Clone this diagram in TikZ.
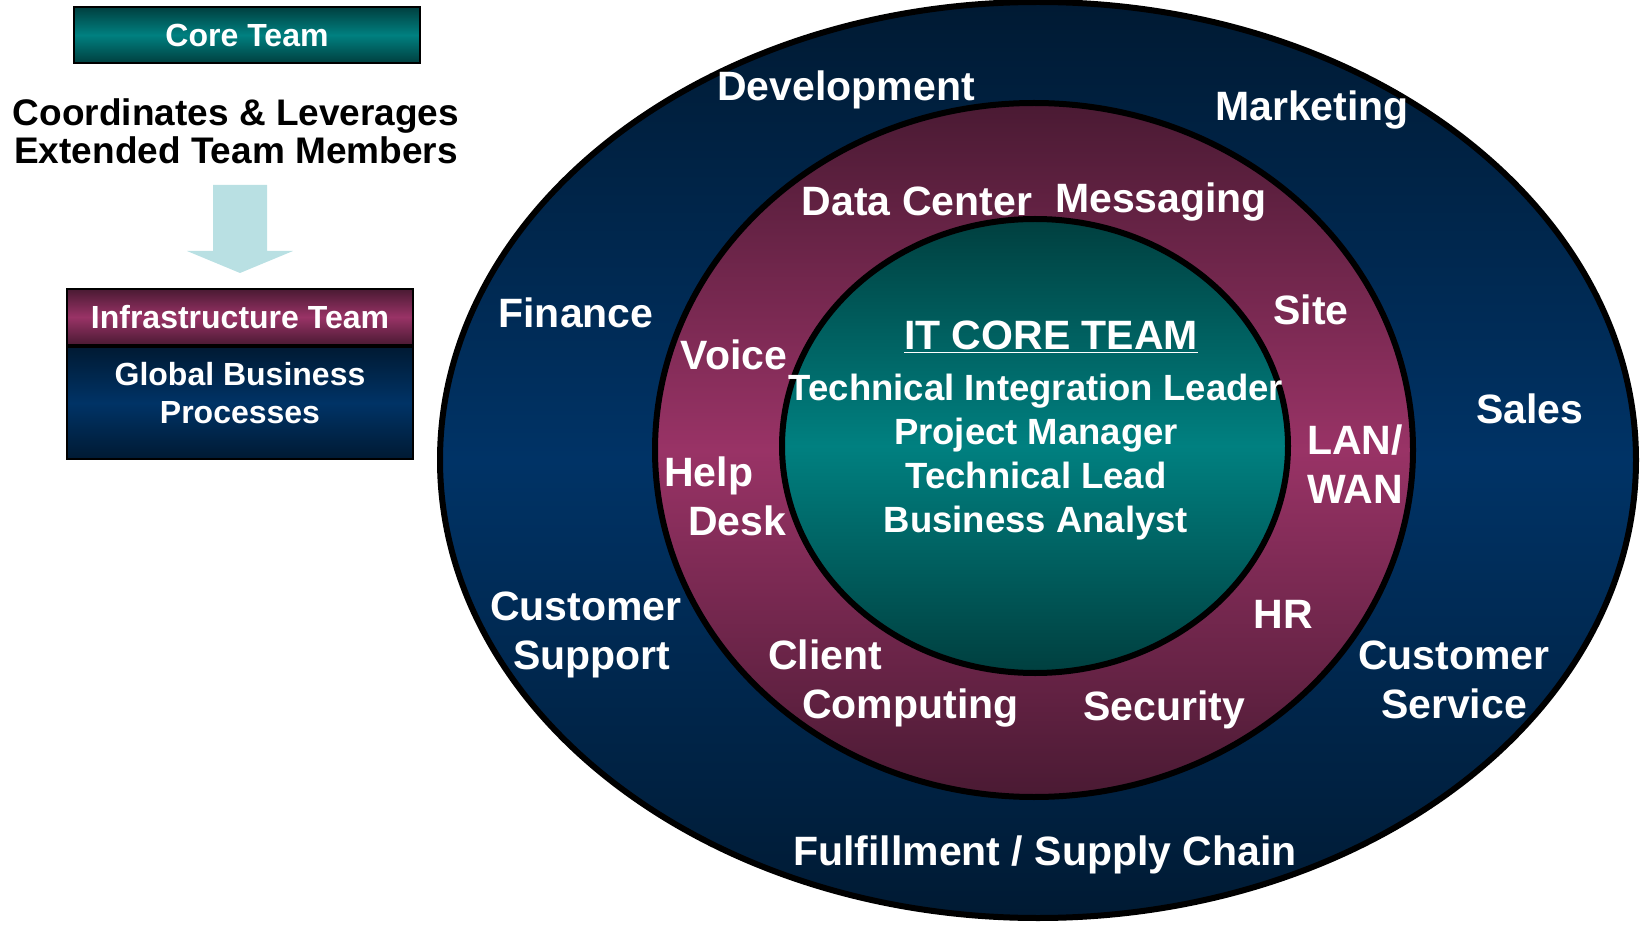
\documentclass[tikz,border=0pt]{standalone}
\usepackage{fontspec}
\setmainfont{Liberation Sans}
\usepackage{tikz}
\usetikzlibrary{positioning}
\definecolor{navydark}{HTML}{001A33}
\definecolor{navymid}{HTML}{003366}
\definecolor{plumdark}{HTML}{4A1A33}
\definecolor{plummid}{HTML}{993366}
\definecolor{tealdark}{HTML}{003F3F}
\definecolor{tealmid}{HTML}{008080}
\definecolor{arrowblue}{HTML}{B9E0E3}
\newcommand{\ringfont}{\fontsize{41}{49}\selectfont\bfseries}
\newcommand{\rolefont}{\fontsize{36.5}{44}\selectfont\bfseries}
\newcommand{\boxfont}{\fontsize{32}{38}\selectfont\bfseries}
\newcommand{\notefont}{\fontsize{37}{38.5}\selectfont\bfseries}
\tikzset{
  navyfill/.style={top color=navydark,bottom color=navydark,middle color=navymid},
  plumfill/.style={top color=plumdark,bottom color=plumdark,middle color=plummid},
  tealfill/.style={top color=tealdark,bottom color=tealdark,middle color=tealmid},
  ring/.style={draw=black,line width=6pt},
  teambox/.style={draw=black,line width=2pt,minimum width=346pt,text=white,font=\boxfont,inner sep=0pt},
  ringtext/.style={text=white,font=\ringfont,inner sep=0pt},
  roletext/.style={text=white,font=\rolefont,inner sep=0pt,align=center},
  notetext/.style={text=black,font=\notefont,inner sep=0pt,align=center}
}

\begin{document}
\begin{tikzpicture}[x=1pt,y=-1pt]
\useasboundingbox (0,0) rectangle (1642,925);
% left side: legend
\node (core) [teambox,tealfill,minimum height=56pt] at (247,35) {Core Team};
\node (ext) [notetext,anchor=north] at (236,98) {Coordinates \& Leverages\\Extended Team Members};
\fill[arrowblue] (213,185) -- (267,185) -- (267,251) -- (293,251) -- (240,273) -- (187,251) -- (213,251) -- cycle;
\node (infra) [teambox,plumfill,minimum height=56pt] at (240,317) {Infrastructure Team};
\node (gbp) [teambox,navyfill,minimum height=112pt,align=center,below=0pt of infra] {Global Business\\Processes\rule[-20pt]{0pt}{20pt}};
%
% the three rings
\draw[ring,navyfill] (1038,460) ellipse [x radius=598, y radius=458];
\draw[ring,plumfill] (1034,450) ellipse [x radius=379, y radius=347];
\draw[ring,tealfill] (1035,446) ellipse [x radius=253, y radius=227];
%
% outer ring
\node (dev) [ringtext,anchor=base] at (846,101) {Development};
\node (mkt) [ringtext,anchor=base] at (1312,121) {Marketing};
\node (fin) [ringtext,anchor=base] at (576,328) {Finance};
\node (sales) [ringtext,anchor=base] at (1530,424) {Sales};
\node (custsup) [ringtext,align=center,anchor=north] at (592,592) {Customer\hspace*{12pt}\\Support};
\node (custsvc) [ringtext,align=center,anchor=north] at (1454,641) {Customer\\Service};
\node (supply) [ringtext,anchor=base] at (1045,865) {Fulfillment / Supply Chain};
%
% middle ring
\node (datactr) [ringtext,anchor=base] at (917,216) {Data Center};
\node (msg) [ringtext,anchor=base] at (1161,213) {Messaging};
\node (voice) [ringtext,anchor=base] at (734,370) {Voice};
\node (site) [ringtext,anchor=base] at (1311,325) {Site};
\node (help) [ringtext,align=left,anchor=north west] at (664,457) {Help\\\hspace*{24pt}Desk};
\node (lanwan) [ringtext,align=left,anchor=north west] at (1307,425) {LAN/\\WAN};
\node (hr) [ringtext,anchor=base] at (1283,628) {HR};
\node (client) [ringtext,align=left,anchor=north west] at (768,640) {Client\\\hspace*{34pt}Computing};
\node (sec) [ringtext,anchor=base] at (1164,720) {Security};
%
% inner ring
\node (title) [ringtext,anchor=base] at (1051,350) {\underline{IT CORE TEAM}};
\node (roles) [roletext,anchor=north] at (1036,374) {Technical Integration Leader\\Project Manager\\Technical Lead\\Business Analyst};
\end{tikzpicture}
\end{document}
